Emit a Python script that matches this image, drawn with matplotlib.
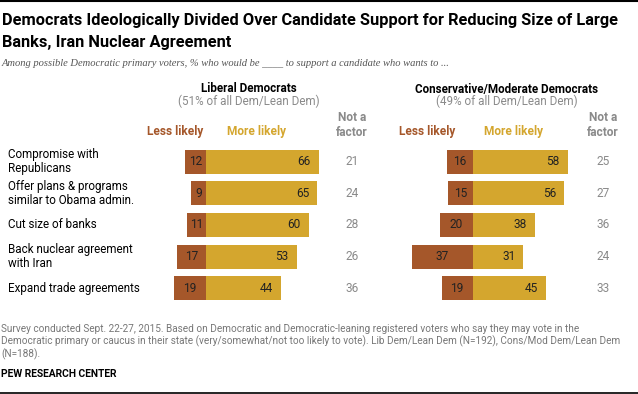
import matplotlib
matplotlib.use("Agg")
import matplotlib.pyplot as plt
from matplotlib.lines import Line2D

categories = ["Compromise with\nRepublicans",
              "Offer plans & programs\nsimilar to Obama admin.",
              "Cut size of banks",
              "Back nuclear agreement\nwith Iran",
              "Expand trade agreements"]
lib_less = [12, 9, 11, 17, 19]
lib_more = [66, 65, 60, 53, 44]
lib_notfactor = [21, 24, 28, 26, 36]
cons_less = [16, 15, 20, 37, 19]
cons_more = [58, 56, 38, 31, 45]
cons_notfactor = [25, 27, 36, 24, 33]

W, H = 638, 394
BROWN = "#A5572A"
GOLD = "#D4A62E"
GREY = "#8a8a8a"
TXT = "#222222"

fig = plt.figure(figsize=(W / 100, H / 100), dpi=100)

def fx(x):
    return x / W

def fy(y):
    return 1 - y / H

BODY = ["Roboto", "DejaVu Sans"]

# frame lines
fig.add_artist(Line2D([0, 1], [fy(0.5), fy(0.5)], color="black", lw=1.5, transform=fig.transFigure))
fig.add_artist(Line2D([0, 1], [fy(393), fy(393)], color="black", lw=1.2, transform=fig.transFigure))

# titles
fig.text(fx(2), fy(21), "Democrats Ideologically Divided Over Candidate Support for Reducing Size of Large",
         fontsize=11.8, fontweight="bold", family=BODY, va="center", ha="left", color="black")
fig.text(fx(2), fy(43), "Banks, Iran Nuclear Agreement",
         fontsize=11.8, fontweight="bold", family=BODY, va="center", ha="left", color="black")
fig.text(fx(2), fy(63), "Among possible Democratic primary voters, % who would be ____ to support a candidate who wants to ...",
         fontsize=7.6, style="italic", family=["Liberation Serif", "DejaVu Serif"], va="center", ha="left", color="#555555")

row0, rstep = 161.5, 31.7
bar_h = 24 / rstep

def make_panel(zero_px, scale, less, more, nf, nf_x, title, sub, title_x, less_x, more_x):
    ax = fig.add_axes([0, 0, 1, 1])
    ax.set_xlim((0 - zero_px) / scale, (W - zero_px) / scale)
    ax.set_ylim((H - row0) / rstep, (0 - row0) / rstep)
    ax.axis("off")
    ax.patch.set_alpha(0)
    rows = list(range(len(less)))
    ax.barh(rows, [-v for v in less], height=bar_h, color=BROWN, lw=0)
    ax.barh(rows, more, height=bar_h, color=GOLD, lw=0)
    for i in rows:
        ax.text(-less[i] / 2, i, str(less[i]), ha="center", va="center", fontsize=8.6, family=BODY, color=TXT)
        ax.annotate(str(more[i]), (more[i], i), xytext=(-8 * 0.72, 0), textcoords="offset points",
                    ha="right", va="center", fontsize=8.6, family=BODY, color=TXT)
        fig.text(fx(nf_x), fy(row0 + rstep * i), str(nf[i]), ha="center", va="center",
                 fontsize=8.6, family=BODY, color=GREY)
    fig.text(fx(title_x), fy(89), title, ha="center", va="center", fontsize=8.4,
             fontweight="bold", family=BODY, color="black")
    fig.text(fx(title_x), fy(101.5), sub, ha="center", va="center", fontsize=8.4,
             family=BODY, color=GREY)
    fig.text(fx(less_x), fy(132), "Less likely", ha="center", va="center", fontsize=8.6,
             fontweight="bold", family=BODY, color=BROWN)
    fig.text(fx(more_x), fy(132), "More likely", ha="center", va="center", fontsize=8.6,
             fontweight="bold", family=BODY, color=GOLD)
    fig.text(fx(nf_x), fy(125), "Not a\nfactor", ha="center", va="center", fontsize=8.6,
             fontweight="bold", family=BODY, color=GREY, linespacing=1.15)
    return ax

make_panel(206, 1.71, lib_less, lib_more, lib_notfactor, 352,
           "Liberal Democrats", "(51% of all Dem/Lean Dem)", 249, 175, 257)
make_panel(472.7, 1.635, cons_less, cons_more, cons_notfactor, 603,
           "Conservative/Moderate Democrats", "(49% of all Dem/Lean Dem)", 507, 427, 514)

for i, c in enumerate(categories):
    fig.text(fx(8), fy(row0 + rstep * i), c, ha="left", va="center", fontsize=8.4,
             family=BODY, color="black", linespacing=1.12)

fig.text(fx(1), fy(342), "Survey conducted Sept. 22-27, 2015. Based on Democratic and Democratic-leaning registered voters who say they may vote in the\n"
         "Democratic primary or caucus in their state (very/somewhat/not too likely to vote). Lib Dem/Lean Dem (N=192), Cons/Mod Dem/Lean Dem\n"
         "(N=188).", ha="left", va="center", fontsize=7.2, family=BODY, color="#777777", linespacing=1.2)
fig.text(fx(1), fy(374), "PEW RESEARCH CENTER", ha="left", va="center", fontsize=7.4,
         fontweight="bold", family=BODY, color="black")

fig.savefig("out.png", dpi=100)
